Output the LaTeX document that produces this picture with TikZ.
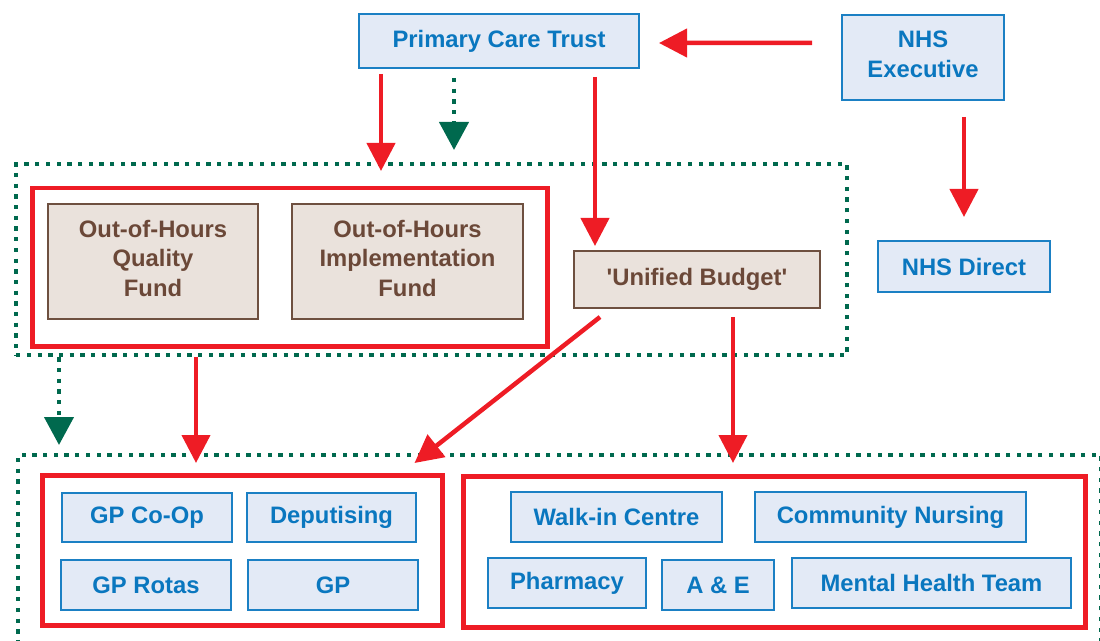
\documentclass[tikz,border=0pt]{standalone}
\usepackage{fontspec}
\newfontfamily\mainsans{Liberation Sans}
\usetikzlibrary{arrows.meta,calc}
\definecolor{nhsred}{HTML}{EE1C25}
\definecolor{nhsgreen}{HTML}{00694E}
\definecolor{bluefill}{HTML}{E3EAF6}
\definecolor{blueline}{HTML}{1B80C4}
\definecolor{bluetext}{HTML}{0A77BF}
\definecolor{brownfill}{HTML}{EAE2DC}
\definecolor{brownline}{HTML}{6E5040}
\definecolor{browntext}{HTML}{6B4838}
\begin{document}
\begin{tikzpicture}[x=1bp,y=-1bp,
  every node/.style={font=\mainsans\fontsize{23.8bp}{29.5bp}\selectfont\bfseries, inner sep=0pt, anchor=north west, align=center},
  bluebox/.style={draw=blueline, fill=bluefill, text=bluetext, line width=2bp},
  brownbox/.style={draw=brownline, fill=brownfill, text=browntext, line width=2bp},
  multiline/.style={text depth=7bp},
  redframe/.style={draw=nhsred, line width=4.5bp},
  greenframe/.style={draw=nhsgreen, line width=4.3bp, dash pattern=on 4.3bp off 6.4bp},
  redarrow/.style={draw=nhsred, line width=4.5bp, -{Triangle[width=28bp,length=28bp]}},
  greenarrow/.style={draw=nhsgreen, line width=4.3bp, dash pattern=on 4.3bp off 6.4bp, -{Triangle[width=29bp,length=28bp]}},
]
\useasboundingbox (0,0) rectangle (1100,641);
\clip (0,0) rectangle (1100,641);

% frames
\node[greenframe, minimum width=831bp, minimum height=191bp] (topframe) at (14,162) {};
\node[greenframe, minimum width=1083bp, minimum height=260bp] (botframe) at (16,453) {};
\node[redframe, minimum width=515bp, minimum height=158bp] (rb1) at (30,186) {};
\node[redframe, minimum width=400bp, minimum height=150bp] (rb2) at (40,473) {};
\node[redframe, minimum width=622bp, minimum height=151bp] (rb3) at (461,474) {};

% top boxes
\node[bluebox, minimum width=280bp, minimum height=54bp] (pct) at (358,13) {Primary Care Trust};
\node[bluebox, multiline, minimum width=162bp, minimum height=85bp] (nhse) at (841,14) {NHS\\Executive};
\node[bluebox, minimum width=172bp, minimum height=51bp] (nhsd) at (877,240) {NHS Direct};

% funds
\node[brownbox, multiline, minimum width=210bp, minimum height=115bp] (oohq) at (47,203) {Out-of-Hours\\Quality\\Fund};
\node[brownbox, multiline, minimum width=231bp, minimum height=115bp] (oohi) at (291,203) {Out-of-Hours\\Implementation\\Fund};
\node[brownbox, minimum width=246bp, minimum height=57bp] (ub) at (573,250) {'Unified Budget'};

% GP services
\node[bluebox, minimum width=170bp, minimum height=49bp] (gpco) at (61,492) {GP Co-Op};
\node[bluebox, minimum width=169bp, minimum height=49bp] (dep) at (246,492) {Deputising};
\node[bluebox, minimum width=170bp, minimum height=50bp] (gpr) at (60,559) {GP Rotas};
\node[bluebox, minimum width=170bp, minimum height=50bp] (gp) at (247,559) {GP};

% other services
\node[bluebox, minimum width=211bp, minimum height=50bp] (walk) at (510,491) {Walk-in Centre};
\node[bluebox, minimum width=271bp, minimum height=50bp] (comm) at (754,491) {Community Nursing};
\node[bluebox, minimum width=158bp, minimum height=50bp] (pharm) at (487,557) {Pharmacy};
\node[bluebox, minimum width=112bp, minimum height=50bp] (ae) at (661,559) {A \& E};
\node[bluebox, minimum width=279bp, minimum height=50bp] (mht) at (791,557) {Mental Health Team};

% connectors
\draw[redarrow] ($(nhse.west)+(-29,-14.5)$) -- ($(pct.east)+(19,2)$);
\draw[redarrow, shorten <=16bp, shorten >=23bp] (nhsd.north |- nhse.south) -- (nhsd.north);

\coordinate (p1) at ($(pct.south west)+(23,0)$);
\draw[redarrow, shorten <=5bp, shorten >=15bp] (p1) -- (p1 |- rb1.north);
\coordinate (g1) at ($(pct.south west)+(96,0)$);
\draw[greenarrow, shorten <=9bp, shorten >=12bp] (g1) -- (g1 |- topframe.north);
\coordinate (p2) at ($(pct.south west)+(237,0)$);
\draw[redarrow, shorten <=8bp, shorten >=4bp] (p2) -- (p2 |- ub.north);

\coordinate (r1) at ($(rb1.south west)+(166,0)$);
\draw[redarrow, shorten <=8bp, shorten >=10bp] (r1) -- (r1 |- rb2.north);
\draw[redarrow] ($(ub.south west)+(27,8)$) -- ($(rb2.north east)+(-30,-10)$);
\coordinate (u1) at ($(ub.south west)+(160,0)$);
\draw[redarrow, shorten <=8bp, shorten >=11bp] (u1) -- (u1 |- rb3.north);

\coordinate (g2) at ($(topframe.south west)+(45,0)$);
\draw[greenarrow, shorten >=8bp] (g2) -- (g2 |- botframe.north);
\end{tikzpicture}
\end{document}
